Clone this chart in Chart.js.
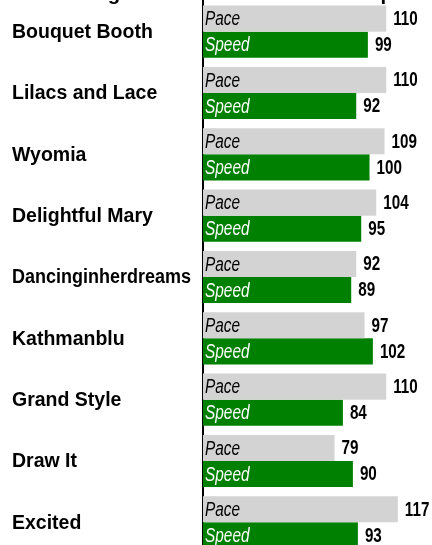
<!DOCTYPE html>
<html><head><meta charset="utf-8">
<script src="https://cdn.jsdelivr.net/npm/chart.js@4/dist/chart.umd.min.js"></script>
<style>
html,body{margin:0;padding:0;background:#fff;}
#wrap{position:relative;width:432px;height:545px;overflow:hidden;}
#c{position:absolute;left:0;top:-30px;}
</style></head><body>
<div id="wrap"><canvas id="c" width="432" height="590"></canvas></div>
<script>
const TITLE = "Ratings of Each Horse: Pace vs Speed";
const horses = ["Bouquet Booth","Lilacs and Lace","Wyomia","Delightful Mary","Dancinginherdreams","Kathmanblu","Grand Style","Draw It","Excited"];
const seriesNames = ["Pace","Speed"];
const pace  = [110,110,109,104,92,97,110,79,117];
const speed = [99,92,100,95,89,102,84,90,93];
const seriesColors = ["#d3d3d3","#008000"];
const nameColors = ["#000000","#ffffff"];

const FONT = '"Liberation Sans", Arial, sans-serif';

function narrowText(ctx, text, x, y, sx){
  ctx.save(); ctx.translate(x, y); ctx.scale(sx, 1); ctx.fillText(text, 0, 0); ctx.restore();
}

const labelPlugin = {
  id: 'labels',
  afterDatasetsDraw(chart){
    const ctx = chart.ctx;
    const left = chart.chartArea.left;
    chart.data.datasets.forEach((ds, i) => {
      const meta = chart.getDatasetMeta(i);
      meta.data.forEach((bar, j) => {
        ctx.save();
        ctx.textBaseline = 'middle';
        ctx.textAlign = 'left';
        ctx.font = 'italic 20px ' + FONT;
        ctx.fillStyle = nameColors[i];
        narrowText(ctx, ds.label, left + 2, bar.y + 1, 0.77);
        ctx.font = 'bold 19.5px ' + FONT;
        ctx.fillStyle = '#000';
        narrowText(ctx, String(ds.data[j]), bar.x + 7, bar.y + 1, 0.78);
        ctx.restore();
      });
    });
    // category labels, placed with the y scale
    const ys = chart.scales.y;
    ctx.save();
    ctx.font = 'bold 19.5px ' + FONT;
    ctx.fillStyle = '#000';
    ctx.textAlign = 'left';
    ctx.textBaseline = 'middle';
    chart.data.labels.forEach((lab, k) => {
      ctx.fillText(lab, 12, ys.getPixelForTick(k) + 1, 179);
    });
    ctx.restore();
  }
};

const titlePlugin = {
  id: 'cuttitle',
  afterDraw(chart){
    const ctx = chart.ctx;
    ctx.save();
    ctx.font = 'bold 20.3px ' + FONT;
    ctx.fillStyle = '#000';
    ctx.textAlign = 'left';
    ctx.textBaseline = 'alphabetic';
    ctx.fillText(TITLE, 57, 30);
    ctx.restore();
  }
};

new Chart(document.getElementById('c'), {
  type: 'bar',
  data: {
    labels: horses,
    datasets: [
      { label: seriesNames[0], data: pace,  backgroundColor: seriesColors[0], borderWidth: 0, categoryPercentage: 0.85, barPercentage: 1.0 },
      { label: seriesNames[1], data: speed, backgroundColor: seriesColors[1], borderWidth: 0, categoryPercentage: 0.85, barPercentage: 1.0 }
    ]
  },
  options: {
    indexAxis: 'y',
    responsive: false,
    animation: false,
    layout: { padding: { left: 12, top: 31, right: 0, bottom: 7 } },
    plugins: { legend: { display: false }, tooltip: { enabled: false }, title: { display: false } },
    scales: {
      x: { display: false, min: 0, max: 137.5 },
      y: {
        grid: { display: false },
        border: { display: true, color: '#000', width: 2 },
        ticks: { display: false },
        afterFit(scale){ scale.width = 191; }
      }
    }
  },
  plugins: [labelPlugin, titlePlugin]
});
</script>
</body></html>
